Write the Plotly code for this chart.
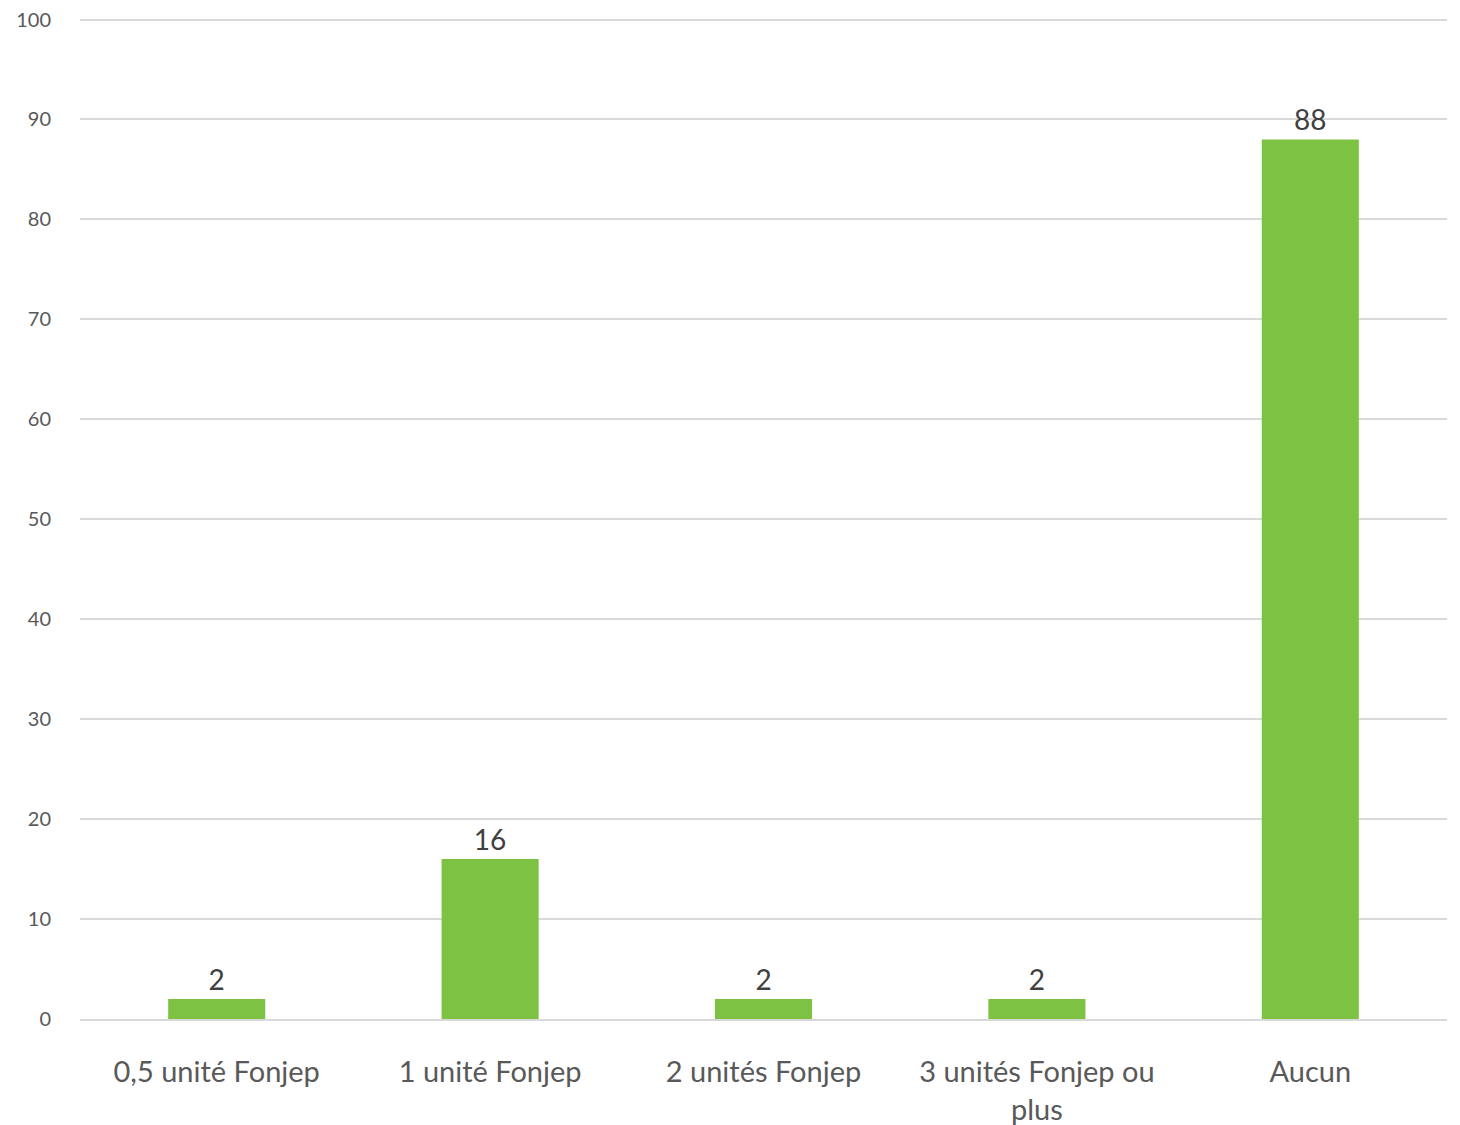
import plotly.graph_objects as go

categories = ["0,5 unité Fonjep", "1 unité Fonjep", "2 unités Fonjep", "3 unités Fonjep ou<br>plus", "Aucun"]
values = [2, 16, 2, 2, 88]
y_ticks = [0, 10, 20, 30, 40, 50, 60, 70, 80, 90, 100]

FONT = "Lato, Carlito, Calibri, sans-serif"

fig = go.Figure(go.Bar(
    x=categories, y=values,
    marker=dict(color="#7dc242", line=dict(width=0)),
    width=0.355,
    text=[str(v) for v in values],
    textposition="outside",
    textfont=dict(family=FONT, size=28, color="#404040"),
    cliponaxis=False,
))

fig.update_layout(
    width=1460, height=1125,
    margin=dict(l=72, r=21, t=10, b=114, autoexpand=False),
    plot_bgcolor="white", paper_bgcolor="white",
    showlegend=False,
    font=dict(family=FONT),
)
fig.update_xaxes(
    showgrid=False, showline=True, linecolor="#d9d9d9", linewidth=2,
    tickfont=dict(family=FONT, size=29, color="#595959"),
    ticks="", ticklabelstandoff=26, automargin=False,
    ticklabeloverflow="allow",
)
fig.update_yaxes(
    range=[0, 100.15], tickvals=y_ticks,
    showgrid=True, gridcolor="#d9d9d9", gridwidth=1.5,
    zeroline=False, showline=False,
    tickfont=dict(family=FONT, size=20, color="#595959"),
    ticks="", ticklabelstandoff=28, automargin=False,
    ticklabeloverflow="allow",
)

fig.write_html("out.html")
